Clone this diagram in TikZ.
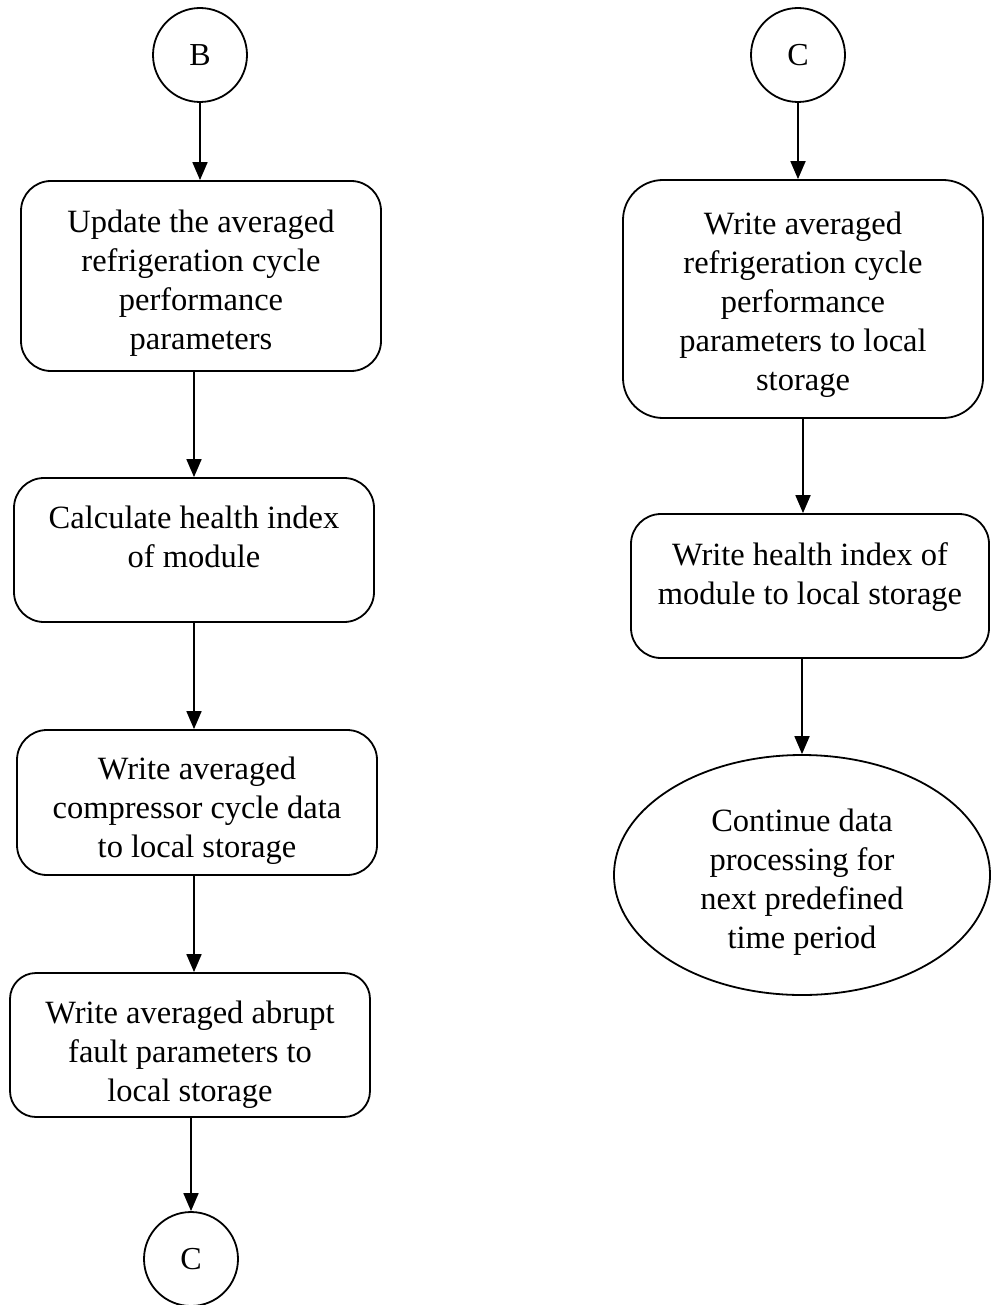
\documentclass[tikz,border=0pt]{standalone}
\usepackage{fontspec}
\setmainfont{Liberation Serif}
\usetikzlibrary{arrows.meta,shapes.geometric}
\begin{document}
\begin{tikzpicture}[x=1pt,y=-1pt,
  box/.style={draw,line width=1.8pt,rounded corners=30pt,align=center,inner sep=0pt,
    font=\fontsize{32.5}{39}\selectfont},
  conn/.style={draw,circle,line width=1.8pt,minimum size=94pt,inner sep=0pt,
    font=\fontsize{32}{36}\selectfont},
  endnode/.style={draw,ellipse,line width=1.8pt,minimum width=376pt,minimum height=240pt,
    inner sep=0pt,align=center,font=\fontsize{32.5}{39}\selectfont},
  arr/.style={line width=1.8pt,-{Triangle[length=18pt,width=15pt]}}]
\useasboundingbox (0,0) rectangle (990,1305);
% left column
\node[conn] (B) at (200,55) {B};
\node[box,minimum width=360pt,minimum height=190pt] (b1) at (201,276)
  {\mbox{}\\[-2pt]Update the averaged\\refrigeration cycle\\performance\\parameters};
\node[box,minimum width=360pt,minimum height=144pt] (b2) at (194,550)
  {Calculate health index\\of module\\[-12pt]\mbox{}};
\node[box,minimum width=360pt,minimum height=145pt] (b3) at (197,802.5)
  {\mbox{}\\[0pt]Write averaged\\compressor cycle data\\to local storage};
\node[box,minimum width=360pt,minimum height=144pt,rounded corners=26pt] (b4) at (190,1045)
  {\mbox{}\\[2pt]Write averaged abrupt\\fault parameters to\\local storage};
\node[conn] (C1) at (191,1259) {C};
% right column
\node[conn] (C2) at (798,55) {C};
\node[box,minimum width=360pt,minimum height=238pt,rounded corners=40pt] (b5) at (803,299)
  {\mbox{}\\[-4pt]Write averaged\\refrigeration cycle\\performance\\parameters to local\\storage};
\node[box,minimum width=358pt,minimum height=144pt] (b6) at (810,586)
  {Write health index of\\module to local storage\\[-14pt]\mbox{}};
\node[endnode] (E) at (802,875)
  {\mbox{}\\[-2pt]Continue data\\processing for\\next predefined\\time period};
% connectors
\draw[arr] (B.south) -- (B.south |- b1.north);
\draw[arr] (b2.north |- b1.south) -- (b2.north);
\draw[arr] (b2.south) -- (b2.south |- b3.north);
\draw[arr] (b2.south |- b3.south) -- (b2.south |- b4.north);
\draw[arr] (C1.north |- b4.south) -- (C1.north);
\draw[arr] (C2.south) -- (C2.south |- b5.north);
\draw[arr] (b5.south) -- (b5.south |- b6.north);
\draw[arr] (E.north |- b6.south) -- (E.north);
\end{tikzpicture}
\end{document}
